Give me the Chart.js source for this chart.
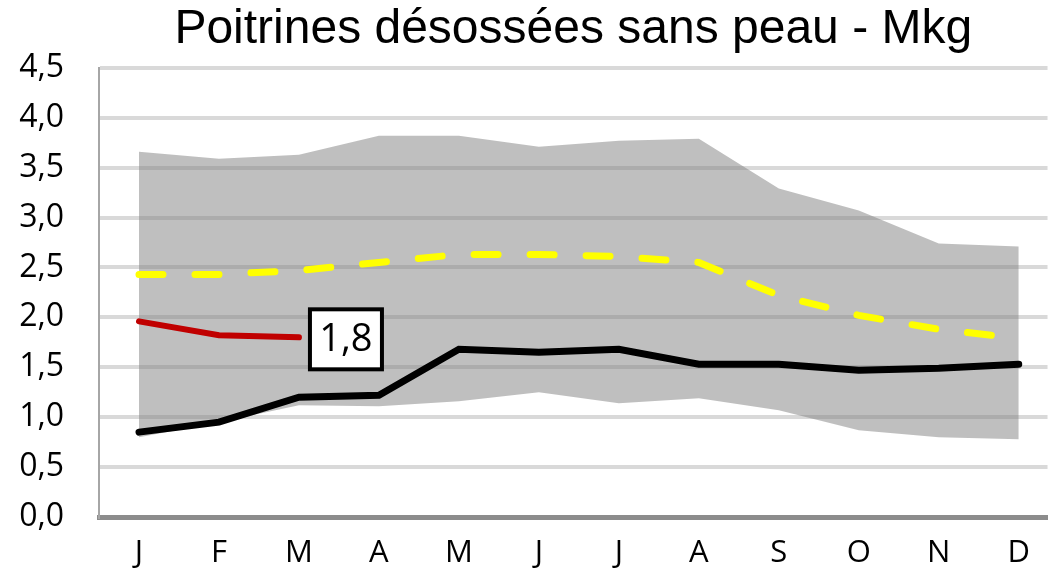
<!DOCTYPE html>
<html>
<head>
<meta charset="utf-8">
<script src="https://cdn.jsdelivr.net/npm/chart.js@4/dist/chart.umd.min.js"></script>
<style>
    html, body { margin: 0; padding: 0; background: #fff; }
    #wrap { width: 1048px; height: 568px; }
</style>
</head>
<body>
<div id="wrap"><canvas id="chart"></canvas></div>
<script>
// Données (Mkg)
const mois = ['J', 'F', 'M', 'A', 'M', 'J', 'J', 'A', 'S', 'O', 'N', 'D'];
const maxPlage = [3.66, 3.59, 3.63, 3.82, 3.82, 3.71, 3.77, 3.79, 3.29, 3.07, 2.74, 2.71];
const minPlage = [0.80, 0.95, 1.12, 1.11, 1.16, 1.25, 1.14, 1.19, 1.07, 0.87, 0.80, 0.78];
const moyenne = [2.43, 2.43, 2.47, 2.55, 2.63, 2.63, 2.61, 2.55, 2.22, 2.02, 1.88, 1.79];
const anneePrec = [0.85, 0.95, 1.20, 1.22, 1.68, 1.65, 1.68, 1.53, 1.53, 1.47, 1.49, 1.53];
const anneeCour = [1.96, 1.82, 1.80];
const yTicks = [0, 0.5, 1, 1.5, 2, 2.5, 3, 3.5, 4, 4.5];

const pts = arr => arr.map((v, i) => ({ x: i, y: v }));
const fmt = v => v.toFixed(1).replace('.', ',');

// Étiquette encadrée sur le dernier point de l'année en cours
const etiquette = {
    id: 'etiquette',
    afterDatasetsDraw(chart) {
        const meta = chart.getDatasetMeta(0);
        const last = meta.data[meta.data.length - 1];
        if (!last) return;
        const ctx = chart.ctx;
        const cx = last.x + 47, cy = last.y + 2;
        const w = 72, h = 60;
        ctx.save();
        ctx.fillStyle = '#fff';
        ctx.strokeStyle = '#000';
        ctx.lineWidth = 4;
        ctx.fillRect(cx - w / 2, cy - h / 2, w, h);
        ctx.strokeRect(cx - w / 2, cy - h / 2, w, h);
        ctx.fillStyle = '#000';
        ctx.font = '38px "Open Sans"';
        ctx.textAlign = 'center';
        ctx.textBaseline = 'middle';
        ctx.fillText(fmt(anneeCour[anneeCour.length - 1]), cx, cy + 1);
        ctx.restore();
    }
};

new Chart(document.getElementById('chart'), {
    type: 'line',
    data: {
        datasets: [
            {
                label: 'Année en cours',
                data: pts(anneeCour),
                borderColor: '#c00000',
                borderWidth: 6,
                borderCapStyle: 'round',
                pointRadius: 0,
                tension: 0,
                fill: false,
                order: 0
            },
            {
                label: 'Année précédente',
                data: pts(anneePrec),
                borderColor: '#000',
                borderWidth: 7,
                borderCapStyle: 'round',
                pointRadius: 0,
                tension: 0,
                fill: false,
                order: 1
            },
            {
                label: 'Moyenne',
                data: pts(moyenne),
                borderColor: '#ffff00',
                borderWidth: 7,
                borderDash: [24, 32],
                borderCapStyle: 'round',
                pointRadius: 0,
                tension: 0,
                fill: false,
                order: 2
            },
            {
                label: 'Max',
                data: pts(maxPlage),
                borderWidth: 0,
                borderColor: 'rgba(0,0,0,0)',
                backgroundColor: 'rgba(127,127,127,0.5)',
                pointRadius: 0,
                tension: 0,
                fill: '+1',
                order: 3
            },
            {
                label: 'Min',
                data: pts(minPlage),
                borderWidth: 0,
                borderColor: 'rgba(0,0,0,0)',
                pointRadius: 0,
                tension: 0,
                fill: false,
                order: 4
            }
        ]
    },
    options: {
        responsive: true,
        maintainAspectRatio: false,
        animation: false,
        layout: { padding: 0 },
        plugins: {
            legend: { display: false },
            tooltip: { enabled: false },
            title: {
                display: true,
                text: 'Poitrines désossées sans peau - Mkg',
                color: '#000',
                fullSize: false,
                font: { family: '"Liberation Sans", Arial', size: 48, weight: 'normal', lineHeight: 1.1 },
                padding: { top: 3, bottom: 12 }
            }
        },
        scales: {
            x: {
                type: 'linear',
                min: -0.5,
                max: 11.36,
                grid: { display: false, drawTicks: false },
                border: { color: '#8c8c8c', width: 5 },
                afterBuildTicks: s => { s.ticks = mois.map((m, i) => ({ value: i })); },
                afterFit: s => { s.height = 51; },
                ticks: {
                    color: '#000',
                    padding: 18,
                    autoSkip: false,
                    maxRotation: 0,
                    font: { family: '"Open Sans"', size: 31 },
                    callback: v => mois[v]
                }
            },
            y: {
                min: 0,
                max: 4.5,
                grid: { color: '#d9d9d9', lineWidth: 4, drawTicks: false },
                border: { color: '#a6a6a6', width: 2 },
                afterBuildTicks: s => { s.ticks = yTicks.map(v => ({ value: v })); },
                afterFit: s => { s.width = 99; s.paddingTop = 0; s.paddingBottom = 0; },
                ticks: {
                    color: '#000',
                    padding: 35,
                    font: { family: '"Open Sans"', size: 32 },
                    callback: v => fmt(v)
                }
            }
        }
    },
    plugins: [etiquette]
});
</script>
</body>
</html>
